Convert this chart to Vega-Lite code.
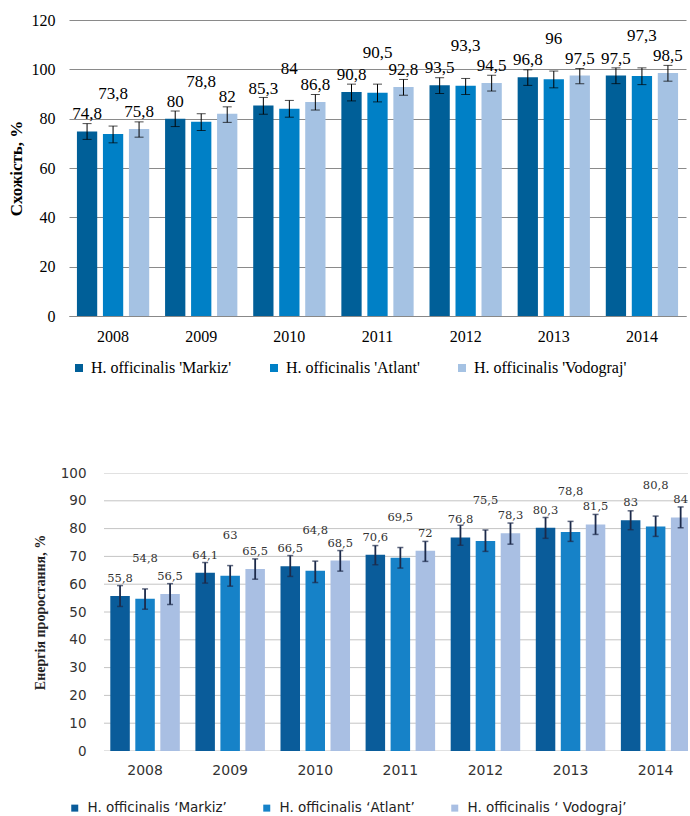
{
  "$schema": "https://vega.github.io/schema/vega-lite/v6.json",
  "padding": {"left": 7, "top": 12, "right": 0, "bottom": 0},
  "background": "white",
  "config": {
    "view": {"stroke": null},
    "locale": {"number": {"decimal": ",", "thousands": " ", "grouping": [3], "currency": ["", ""]}}
  },
  "spacing": 90,
  "resolve": {
    "scale": {"x": "independent", "y": "independent", "color": "independent", "xOffset": "independent"},
    "axis": {"x": "independent", "y": "independent"},
    "legend": {"color": "independent"}
  },
  "vconcat": [
    {
      "width": 617,
      "height": 296,
      "resolve": {"axis": {"y": "independent"}},
      "data": {"values": [
        {"year": "2008", "variety": "H. officinalis 'Markiz'", "value": 74.8, "lo": 71.6, "hi": 78.0},
        {"year": "2008", "variety": "H. officinalis 'Atlant'", "value": 73.8, "lo": 70.2, "hi": 77.0},
        {"year": "2008", "variety": "H. officinalis 'Vodograj'", "value": 75.8, "lo": 72.5, "hi": 78.7},
        {"year": "2009", "variety": "H. officinalis 'Markiz'", "value": 80, "lo": 76.8, "hi": 83.1},
        {"year": "2009", "variety": "H. officinalis 'Atlant'", "value": 78.8, "lo": 75.2, "hi": 82.0},
        {"year": "2009", "variety": "H. officinalis 'Vodograj'", "value": 82, "lo": 78.5, "hi": 84.8},
        {"year": "2010", "variety": "H. officinalis 'Markiz'", "value": 85.3, "lo": 81.8, "hi": 88.6},
        {"year": "2010", "variety": "H. officinalis 'Atlant'", "value": 84, "lo": 80.6, "hi": 87.4},
        {"year": "2010", "variety": "H. officinalis 'Vodograj'", "value": 86.8, "lo": 83.5, "hi": 89.8},
        {"year": "2011", "variety": "H. officinalis 'Markiz'", "value": 90.8, "lo": 87.2, "hi": 94.0},
        {"year": "2011", "variety": "H. officinalis 'Atlant'", "value": 90.5, "lo": 86.8, "hi": 94.0},
        {"year": "2011", "variety": "H. officinalis 'Vodograj'", "value": 92.8, "lo": 89.5, "hi": 95.9},
        {"year": "2012", "variety": "H. officinalis 'Markiz'", "value": 93.5, "lo": 90.2, "hi": 96.6},
        {"year": "2012", "variety": "H. officinalis 'Atlant'", "value": 93.3, "lo": 89.8, "hi": 96.3},
        {"year": "2012", "variety": "H. officinalis 'Vodograj'", "value": 94.5, "lo": 91.2, "hi": 97.6},
        {"year": "2013", "variety": "H. officinalis 'Markiz'", "value": 96.8, "lo": 93.5, "hi": 99.8},
        {"year": "2013", "variety": "H. officinalis 'Atlant'", "value": 96, "lo": 92.5, "hi": 99.3},
        {"year": "2013", "variety": "H. officinalis 'Vodograj'", "value": 97.5, "lo": 94.2, "hi": 100.3},
        {"year": "2014", "variety": "H. officinalis 'Markiz'", "value": 97.5, "lo": 94.2, "hi": 100.6},
        {"year": "2014", "variety": "H. officinalis 'Atlant'", "value": 97.3, "lo": 93.8, "hi": 100.6},
        {"year": "2014", "variety": "H. officinalis 'Vodograj'", "value": 98.5, "lo": 95.2, "hi": 101.6}
      ]},
      "encoding": {
        "x": {
          "field": "year", "type": "nominal",
          "scale": {"paddingInner": 0.18, "paddingOuter": 0.09},
          "axis": {"title": null, "labelAngle": 0, "ticks": false, "domainColor": "#888888", "labelPadding": 12,
                   "labelFont": "Liberation Serif", "labelFontSize": 16, "labelColor": "#000000"}
        },
        "xOffset": {
          "field": "variety", "type": "nominal",
          "sort": ["H. officinalis 'Markiz'", "H. officinalis 'Atlant'", "H. officinalis 'Vodograj'"],
          "scale": {"paddingInner": 0.22, "paddingOuter": 0}
        }
      },
      "layer": [
        {
          "mark": {"type": "bar"},
          "encoding": {
            "y": {
              "field": "value", "type": "quantitative",
              "scale": {"domain": [0, 120]},
              "axis": {"title": "Схожість, %", "titleFont": "Liberation Serif", "titleFontSize": 17, "titleFontWeight": "bold",
                       "titleColor": "#000000", "titlePadding": 6, "labelFont": "Liberation Serif", "labelFontSize": 16,
                       "labelColor": "#000000", "labelPadding": 14, "ticks": false, "domain": false,
                       "gridColor": "#8a8a8a", "values": [0, 20, 40, 60, 80, 100, 120]}
            },
            "color": {
              "field": "variety", "type": "nominal",
              "sort": ["H. officinalis 'Markiz'", "H. officinalis 'Atlant'", "H. officinalis 'Vodograj'"],
              "scale": {"domain": ["H. officinalis 'Markiz'", "H. officinalis 'Atlant'", "H. officinalis 'Vodograj'"],
                        "range": ["#005f98", "#0080c6", "#a5c2e3"]},
              "legend": {"orient": "none", "legendX": 2, "legendY": 340, "direction": "horizontal", "title": null,
                         "symbolType": "square", "symbolSize": 64, "symbolStrokeWidth": 0, "labelFont": "Liberation Serif",
                         "labelFontSize": 16, "labelColor": "#000000", "columnPadding": 34, "labelOffset": 4}
            }
          }
        },
        {
          "mark": {"type": "rule", "color": "#000000", "strokeWidth": 1},
          "encoding": {"y": {"field": "lo", "type": "quantitative", "axis": null}, "y2": {"field": "hi"}}
        },
        {
          "mark": {"type": "tick", "color": "#000000", "size": 9, "thickness": 1},
          "encoding": {"y": {"field": "lo", "type": "quantitative", "axis": null}}
        },
        {
          "mark": {"type": "tick", "color": "#000000", "size": 9, "thickness": 1},
          "encoding": {"y": {"field": "hi", "type": "quantitative", "axis": null}}
        },
        {
          "transform": [{"filter": "datum.variety != \"H. officinalis 'Atlant'\""}],
          "mark": {"type": "text", "font": "Liberation Serif", "fontSize": 17, "color": "#000000", "baseline": "middle", "dy": -17},
          "encoding": {"y": {"field": "value", "type": "quantitative", "axis": null}, "text": {"field": "value", "type": "quantitative", "format": ".1~f"}}
        },
        {
          "transform": [{"filter": "datum.variety == \"H. officinalis 'Atlant'\""}],
          "mark": {"type": "text", "font": "Liberation Serif", "fontSize": 17, "color": "#000000", "baseline": "middle", "dy": -40},
          "encoding": {"y": {"field": "value", "type": "quantitative", "axis": null}, "text": {"field": "value", "type": "quantitative", "format": ".1~f"}}
        }
      ]
    },
    {
      "width": 619,
      "height": 278,
      "resolve": {"axis": {"y": "independent"}},
      "datasets": {},
      "data": {"values": [
        {"year": "2008", "variety": "H. officinalis ‘Markiz’", "value": 55.8, "lo": 52.0, "hi": 59.5},
        {"year": "2008", "variety": "H. officinalis ‘Atlant’", "value": 54.8, "lo": 51.0, "hi": 58.3},
        {"year": "2008", "variety": "H. officinalis ‘ Vodograj’", "value": 56.5, "lo": 52.7, "hi": 60.2},
        {"year": "2009", "variety": "H. officinalis ‘Markiz’", "value": 64.1, "lo": 60.4, "hi": 67.8},
        {"year": "2009", "variety": "H. officinalis ‘Atlant’", "value": 63, "lo": 59.3, "hi": 66.7},
        {"year": "2009", "variety": "H. officinalis ‘ Vodograj’", "value": 65.5, "lo": 61.8, "hi": 69.1},
        {"year": "2010", "variety": "H. officinalis ‘Markiz’", "value": 66.5, "lo": 62.8, "hi": 70.3},
        {"year": "2010", "variety": "H. officinalis ‘Atlant’", "value": 64.8, "lo": 60.6, "hi": 68.3},
        {"year": "2010", "variety": "H. officinalis ‘ Vodograj’", "value": 68.5, "lo": 64.7, "hi": 72.1},
        {"year": "2011", "variety": "H. officinalis ‘Markiz’", "value": 70.6, "lo": 67.0, "hi": 73.9},
        {"year": "2011", "variety": "H. officinalis ‘Atlant’", "value": 69.5, "lo": 65.8, "hi": 73.2},
        {"year": "2011", "variety": "H. officinalis ‘ Vodograj’", "value": 72, "lo": 68.2, "hi": 75.4},
        {"year": "2012", "variety": "H. officinalis ‘Markiz’", "value": 76.8, "lo": 74.0, "hi": 81.2},
        {"year": "2012", "variety": "H. officinalis ‘Atlant’", "value": 75.5, "lo": 71.8, "hi": 79.5},
        {"year": "2012", "variety": "H. officinalis ‘ Vodograj’", "value": 78.3, "lo": 74.4, "hi": 82.0},
        {"year": "2013", "variety": "H. officinalis ‘Markiz’", "value": 80.3, "lo": 76.5, "hi": 84.0},
        {"year": "2013", "variety": "H. officinalis ‘Atlant’", "value": 78.8, "lo": 75.4, "hi": 82.6},
        {"year": "2013", "variety": "H. officinalis ‘ Vodograj’", "value": 81.5, "lo": 77.9, "hi": 85.1},
        {"year": "2014", "variety": "H. officinalis ‘Markiz’", "value": 83, "lo": 79.6, "hi": 86.4},
        {"year": "2014", "variety": "H. officinalis ‘Atlant’", "value": 80.8, "lo": 77.2, "hi": 84.5},
        {"year": "2014", "variety": "H. officinalis ‘ Vodograj’", "value": 84, "lo": 80.3, "hi": 87.8}
      ]},
      "encoding": {
        "x": {
          "field": "year", "type": "nominal",
          "scale": {"paddingInner": 0.035, "paddingOuter": 0, "range": [35, 627.7]},
          "axis": {"title": null, "labelAngle": 0, "ticks": false, "domain": false, "grid": false, "labelPadding": 12,
                   "labelFont": "DejaVu Sans", "labelFontSize": 14, "labelColor": "#333333"}
        }
      },
      "layer": [
        {
          "data": {"values": [{"g": 0}, {"g": 10}, {"g": 20}, {"g": 30}, {"g": 40}, {"g": 50}, {"g": 60}, {"g": 70}, {"g": 80}, {"g": 90}, {"g": 100}]},
          "mark": {"type": "rule", "color": "#c4c4c4", "strokeWidth": 1, "clip": true},
          "encoding": {
            "y": {"field": "g", "type": "quantitative", "axis": null},
            "x": {"datum": "2008", "type": "nominal", "bandPosition": 0},
            "x2": {"datum": "2014", "bandPosition": 1}
          }
        },
        {
          "mark": {"type": "bar", "clip": true},
          "encoding": {
            "xOffset": {
              "field": "variety", "type": "nominal",
              "sort": ["H. officinalis ‘Markiz’", "H. officinalis ‘Atlant’", "H. officinalis ‘ Vodograj’"],
              "scale": {"paddingInner": 0.22, "paddingOuter": 0.252}
            },
            "y": {
              "field": "value", "type": "quantitative",
              "scale": {"domain": [0, 100]},
              "axis": {"title": "Енергія проростання, %", "titleFont": "Liberation Serif", "titleFontSize": 14, "titleFontWeight": "bold",
                       "titleColor": "#222222", "titlePadding": 13, "labelFont": "DejaVu Sans", "labelFontSize": 13.5,
                       "labelColor": "#333333", "labelPadding": 18, "ticks": false, "domain": false, "grid": false, "offset": -35,
                       "values": [0, 10, 20, 30, 40, 50, 60, 70, 80, 90, 100]}
            },
            "color": {
              "field": "variety", "type": "nominal",
              "sort": ["H. officinalis ‘Markiz’", "H. officinalis ‘Atlant’", "H. officinalis ‘ Vodograj’"],
              "scale": {"domain": ["H. officinalis ‘Markiz’", "H. officinalis ‘Atlant’", "H. officinalis ‘ Vodograj’"],
                        "range": ["#0a5c9a", "#1682c8", "#a9bfe3"]},
              "legend": {"orient": "none", "legendX": -1, "legendY": 328, "direction": "horizontal", "title": null,
                         "symbolType": "square", "symbolSize": 49, "symbolStrokeWidth": 0, "labelFont": "DejaVu Sans",
                         "labelFontSize": 13.5, "labelColor": "#222222", "columnPadding": 33, "labelOffset": 6}
            }
          }
        },
        {
          "mark": {"type": "rule", "color": "#1c2a4a", "strokeWidth": 1.8, "clip": true},
          "encoding": {
            "xOffset": {"field": "variety", "type": "nominal", "sort": ["H. officinalis ‘Markiz’", "H. officinalis ‘Atlant’", "H. officinalis ‘ Vodograj’"]},
            "y": {"field": "lo", "type": "quantitative", "axis": null}, "y2": {"field": "hi"}
          }
        },
        {
          "mark": {"type": "tick", "color": "#1c2a4a", "size": 6, "thickness": 1.5, "clip": true},
          "encoding": {
            "xOffset": {"field": "variety", "type": "nominal", "sort": ["H. officinalis ‘Markiz’", "H. officinalis ‘Atlant’", "H. officinalis ‘ Vodograj’"]},
            "y": {"field": "lo", "type": "quantitative", "axis": null}
          }
        },
        {
          "mark": {"type": "tick", "color": "#1c2a4a", "size": 6, "thickness": 1.5, "clip": true},
          "encoding": {
            "xOffset": {"field": "variety", "type": "nominal", "sort": ["H. officinalis ‘Markiz’", "H. officinalis ‘Atlant’", "H. officinalis ‘ Vodograj’"]},
            "y": {"field": "hi", "type": "quantitative", "axis": null}
          }
        },
        {
          "transform": [{"filter": "datum.variety != 'H. officinalis ‘Atlant’'"}],
          "mark": {"type": "text", "font": "DejaVu Serif", "fontSize": 11.5, "color": "#333333", "baseline": "middle", "dy": -17, "clip": true},
          "encoding": {
            "xOffset": {"field": "variety", "type": "nominal", "sort": ["H. officinalis ‘Markiz’", "H. officinalis ‘Atlant’", "H. officinalis ‘ Vodograj’"]},
            "y": {"field": "value", "type": "quantitative", "axis": null},
            "text": {"field": "value", "type": "quantitative", "format": ".1~f"}
          }
        },
        {
          "transform": [{"filter": "datum.variety == 'H. officinalis ‘Atlant’'"}],
          "mark": {"type": "text", "font": "DejaVu Serif", "fontSize": 11.5, "color": "#333333", "baseline": "middle", "dy": -40, "clip": true},
          "encoding": {
            "xOffset": {"field": "variety", "type": "nominal", "sort": ["H. officinalis ‘Markiz’", "H. officinalis ‘Atlant’", "H. officinalis ‘ Vodograj’"]},
            "y": {"field": "value", "type": "quantitative", "axis": null},
            "text": {"field": "value", "type": "quantitative", "format": ".1~f"}
          }
        }
      ]
    }
  ]
}
